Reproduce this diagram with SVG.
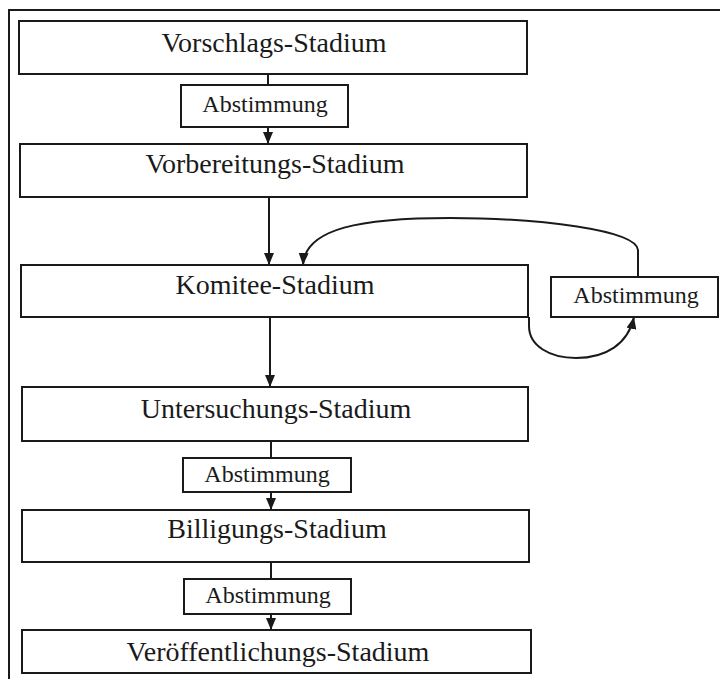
<svg xmlns="http://www.w3.org/2000/svg" width="720" height="679" viewBox="0 0 720 679">
  <style>
    .box { fill: #ffffff; stroke: #1a1a1a; stroke-width: 2; }
    .big { font-family: "Liberation Serif", "Times New Roman", serif; font-size: 28px; fill: #1a1a1a; text-anchor: middle; }
    .small { font-family: "Liberation Serif", "Times New Roman", serif; font-size: 24px; fill: #1a1a1a; text-anchor: middle; }
    .conn { fill: none; stroke: #1a1a1a; stroke-width: 2; }
    .frame { fill: none; stroke: #1a1a1a; stroke-width: 2; }
  </style>
  <defs>
    <marker id="arrow" viewBox="0 0 12 10" refX="12" refY="5" markerWidth="12" markerHeight="10" markerUnits="userSpaceOnUse" orient="auto">
      <path d="M0,0 L12,5 L0,10 Z" fill="#1a1a1a"/>
    </marker>
  </defs>

  <rect width="720" height="679" fill="#ffffff"/>

  <!-- page frame: left and top rules -->
  <path class="frame" d="M9,679 V10 H720"/>

  <!-- connectors -->
  <g id="connectors">
    <path class="conn" d="M268,74 V85"/>
    <path class="conn" d="M268,127 V144" marker-end="url(#arrow)"/>
    <path class="conn" d="M269,197 V265" marker-end="url(#arrow)"/>
    <path class="conn" d="M270,317 V387" marker-end="url(#arrow)"/>
    <path class="conn" d="M271,441 V458"/>
    <path class="conn" d="M271,492 V510" marker-end="url(#arrow)"/>
    <path class="conn" d="M271,562 V579"/>
    <path class="conn" d="M271,614 V630" marker-end="url(#arrow)"/>
    <!-- loop: committee stage to vote and back -->
    <path class="conn" d="M529,317 V326 C529,346 550,358 576,358 C606,358 628,344 634,317" marker-end="url(#arrow)"/>
    <path class="conn" d="M638,277 V250 C636,230 540,218 450,218 C362,218 305,228 303,265" marker-end="url(#arrow)"/>
  </g>

  <g id="vorschlag">
    <rect class="box" x="19" y="21" width="508" height="53"/>
    <text class="big" x="274" y="52">Vorschlags-Stadium</text>
  </g>
  <g id="abstimmung1">
    <rect class="box" x="181" y="85" width="167" height="42"/>
    <text class="small" x="265" y="112">Abstimmung</text>
  </g>
  <g id="vorbereitung">
    <rect class="box" x="20" y="144" width="507" height="53"/>
    <text class="big" x="275" y="173">Vorbereitungs-Stadium</text>
  </g>
  <g id="komitee">
    <rect class="box" x="21" y="265" width="507" height="52"/>
    <text class="big" x="275" y="294">Komitee-Stadium</text>
  </g>
  <g id="abstimmung-komitee">
    <rect class="box" x="551" y="277" width="167" height="40"/>
    <text class="small" x="636" y="303">Abstimmung</text>
  </g>
  <g id="untersuchung">
    <rect class="box" x="22" y="387" width="506" height="54"/>
    <text class="big" x="276" y="418">Untersuchungs-Stadium</text>
  </g>
  <g id="abstimmung2">
    <rect class="box" x="183" y="458" width="168" height="34"/>
    <text class="small" x="267" y="482">Abstimmung</text>
  </g>
  <g id="billigung">
    <rect class="box" x="22" y="510" width="507" height="52"/>
    <text class="big" x="277" y="538">Billigungs-Stadium</text>
  </g>
  <g id="abstimmung3">
    <rect class="box" x="184" y="579" width="167" height="35"/>
    <text class="small" x="268" y="603">Abstimmung</text>
  </g>
  <g id="veroeffentlichung">
    <rect class="box" x="22" y="630" width="509" height="43"/>
    <text class="big" x="278" y="661">Veröffentlichungs-Stadium</text>
  </g>
</svg>
